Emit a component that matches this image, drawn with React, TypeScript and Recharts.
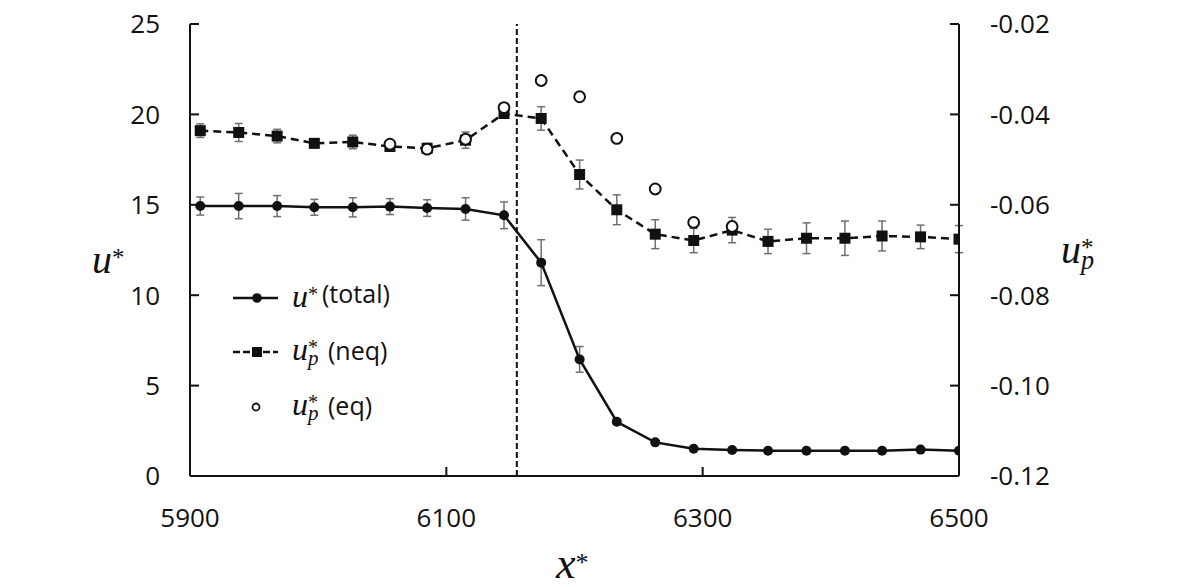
import React from 'react';
import {
  ComposedChart,
  ErrorBar,
  Legend,
  Line,
  ReferenceLine,
  XAxis,
  YAxis,
} from 'recharts';

// streamwise positions x* of the sampled stations
const xStar = [
  5908, 5938, 5968, 5997, 6027, 6056, 6085, 6115, 6145, 6174, 6204, 6233,
  6263, 6293, 6323, 6351, 6381, 6411, 6440, 6470, 6500,
];
// u* (total), left axis
const uTotal = [
  14.93, 14.93, 14.93, 14.86, 14.86, 14.9, 14.82, 14.77, 14.42, 11.8, 6.45,
  3.0, 1.86, 1.51, 1.44, 1.4, 1.4, 1.4, 1.4, 1.46, 1.4,
];
const uTotalErr = [
  0.5, 0.7, 0.58, 0.44, 0.53, 0.44, 0.46, 0.62, 0.74, 1.27, 0.71, 0.12, 0, 0,
  0, 0, 0, 0, 0, 0, 0,
];
// u_p* (neq), right axis
const upNeq = [
  -0.0436, -0.044, -0.0448, -0.0464, -0.0461, -0.0471, -0.0475, -0.0457,
  -0.0398, -0.0409, -0.0533, -0.0611, -0.0665, -0.0679, -0.0656, -0.0681,
  -0.0674, -0.0674, -0.0669, -0.0671, -0.0676,
];
const upNeqErr = [
  0.0015, 0.002, 0.0015, 0.001, 0.0015, 0.0009, 0.0011, 0.0018, 0.0009,
  0.0026, 0.0032, 0.0033, 0.0032, 0.0027, 0.0028, 0.0027, 0.0034, 0.0038,
  0.0033, 0.0026, 0.003,
];
// u_p* (eq), right axis
const upEq = [
  null, null, null, null, null, -0.0466, -0.0477, -0.0455, -0.0385, -0.0325,
  -0.0361, -0.0453, -0.0565, -0.0639, -0.0648, null, null, null, null, null,
  null,
];

const xTicks = [5900, 6100, 6300, 6500];
const leftTicks = [0, 5, 10, 15, 20, 25];
const rightTicks = [-0.12, -0.1, -0.08, -0.06, -0.04, -0.02];
const xDivider = 6155;

const data = xStar.map((x, i) => ({
  x,
  total: uTotal[i],
  totalErr: uTotalErr[i],
  neq: upNeq[i],
  neqErr: upNeqErr[i],
  eq: upEq[i],
}));

const TICK_FONT = "'Open Sans', sans-serif";
const MATH_FONT = "'Liberation Serif', 'DejaVu Serif', serif";
const INK = '#111';

const XTick = (props: any) => {
  const { x, y, payload } = props;
  return (
    <g>
      <line x1={x} x2={x} y1={y} y2={y - 9} stroke={INK} strokeWidth={2} />
      <text x={x} y={y + 51} textAnchor="middle" fontFamily={TICK_FONT} fontSize={26} fill={INK}>
        {payload.value}
      </text>
    </g>
  );
};

const LeftTick = (props: any) => {
  const { x, y, payload } = props;
  return (
    <g>
      <line x1={x} x2={x + 9} y1={y} y2={y} stroke={INK} strokeWidth={2} />
      <text x={x - 30} y={y} dy="0.36em" textAnchor="end" fontFamily={TICK_FONT} fontSize={26} fill={INK}>
        {payload.value}
      </text>
    </g>
  );
};

const RightTick = (props: any) => {
  const { x, y, payload } = props;
  return (
    <g>
      <line x1={x} x2={x - 9} y1={y} y2={y} stroke={INK} strokeWidth={2} />
      <text x={x + 31} y={y} dy="0.36em" textAnchor="start" fontFamily={TICK_FONT} fontSize={26} fill={INK}>
        {Number(payload.value).toFixed(2)}
      </text>
    </g>
  );
};

const SquareDot = (props: any) => {
  const { cx, cy, index } = props;
  if (cx == null || cy == null) return <g key={index} />;
  return <rect key={index} x={cx - 5.5} y={cy - 5.5} width={11} height={11} fill={INK} />;
};

/** u with superscript star and optional subscript p, as one svg text */
function UStar({ x, y, sub, size = 32 }: { x: number; y: number; sub?: boolean; size?: number }) {
  const s = size / 32;
  return (
    <text x={x} y={y} fontFamily={MATH_FONT} fontStyle="italic" fill={INK} fontSize={size}>
      u
      <tspan fontSize={20 * s} fontStyle="normal" dy={-6 * s}>*</tspan>
      {sub && (
        <tspan fontSize={21 * s} dx={-10 * s} dy={11 * s}>p</tspan>
      )}
    </text>
  );
}

const LegendBox = () => (
  <svg width={200} height={160} style={{ overflow: 'visible' }}>
    {/* u* (total) */}
    <line x1={13} x2={58} y1={28} y2={28} stroke={INK} strokeWidth={2.5} />
    <circle cx={37} cy={28} r={4.8} fill={INK} />
    <UStar x={72} y={37} />
    <text x={102} y={33} fontFamily={TICK_FONT} fontSize={25} fill={INK}>(total)</text>
    {/* u_p* (neq) */}
    <line x1={13} x2={58} y1={82} y2={82} stroke={INK} strokeWidth={2.5} strokeDasharray="7 3" />
    <rect x={32} y={77} width={10} height={10} fill={INK} />
    <UStar x={72} y={90} sub />
    <text x={108} y={90} fontFamily={TICK_FONT} fontSize={25} fill={INK}>(neq)</text>
    {/* u_p* (eq) */}
    <circle cx={36} cy={137} r={3.5} fill="#fff" stroke={INK} strokeWidth={1.8} />
    <UStar x={72} y={145} sub />
    <text x={108} y={145} fontFamily={TICK_FONT} fontSize={25} fill={INK}>(eq)</text>
  </svg>
);

export default function App() {
  return (
    <div style={{ position: 'absolute', left: 0, top: 0, width: 1196, height: 587, background: '#fff' }}>
      <ComposedChart
        width={1196}
        height={587}
        data={data}
        margin={{ top: 24, right: 177, left: 130, bottom: 81 }}
      >
        <XAxis
          dataKey="x"
          type="number"
          domain={[5900, 6500]}
          ticks={xTicks}
          interval={0}
          height={30}
          tickSize={0}
          tickMargin={0}
          tickLine={false}
          axisLine={{ stroke: INK, strokeWidth: 2 }}
          tick={XTick}
          allowDataOverflow
        />
        <YAxis
          yAxisId="left"
          domain={[0, 25]}
          ticks={leftTicks}
          interval={0}
          width={60}
          tickSize={0}
          tickMargin={0}
          tickLine={false}
          axisLine={{ stroke: INK, strokeWidth: 2 }}
          tick={LeftTick}
        />
        <YAxis
          yAxisId="right"
          orientation="right"
          domain={[-0.12, -0.02]}
          ticks={rightTicks}
          interval={0}
          width={60}
          tickSize={0}
          tickMargin={0}
          tickLine={false}
          axisLine={{ stroke: INK, strokeWidth: 2 }}
          tick={RightTick}
        />
        <ReferenceLine
          x={xDivider}
          yAxisId="left"
          stroke={INK}
          strokeWidth={2}
          strokeDasharray="6 3"
        />
        <Line
          yAxisId="left"
          dataKey="total"
          type="linear"
          stroke={INK}
          strokeWidth={2.5}
          dot={{ r: 5, fill: INK, stroke: INK, strokeWidth: 0 }}
          activeDot={false}
          isAnimationActive={false}
        >
          <ErrorBar dataKey="totalErr" direction="y" width={4} stroke="#707070" strokeWidth={1.5} />
        </Line>
        <Line
          yAxisId="right"
          dataKey="neq"
          type="linear"
          stroke={INK}
          strokeWidth={2.5}
          strokeDasharray="8 5"
          dot={SquareDot}
          activeDot={false}
          isAnimationActive={false}
        >
          <ErrorBar dataKey="neqErr" direction="y" width={4} stroke="#707070" strokeWidth={1.5} />
        </Line>
        <Line
          yAxisId="right"
          dataKey="eq"
          type="linear"
          stroke="none"
          dot={{ r: 5.4, fill: '#fff', stroke: INK, strokeWidth: 2 }}
          activeDot={false}
          isAnimationActive={false}
        />
        <Legend
          layout="horizontal"
          verticalAlign="middle"
          align="center"
          wrapperStyle={{ left: 220, top: 270, width: 200, height: 160 }}
          content={() => <LegendBox />}
        />
      </ComposedChart>
      {/* axis titles */}
      <svg
        width={1196}
        height={587}
        style={{ position: 'absolute', left: 0, top: 0, pointerEvents: 'none' }}
      >
        <UStar x={92} y={273} size={40} />
        <UStar x={1061} y={263} size={40} sub />
        <text x={556} y={578} fontFamily={MATH_FONT} fill={INK} fontSize={44} fontStyle="italic">
          x<tspan fontSize={26} fontStyle="normal" dy={-7}>*</tspan>
        </text>
      </svg>
    </div>
  );
}
